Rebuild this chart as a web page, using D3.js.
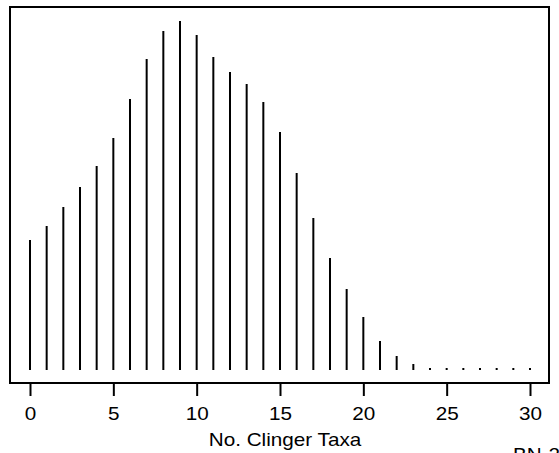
<!DOCTYPE html>
<html>
<head>
<meta charset="utf-8">
<script src="https://cdn.jsdelivr.net/npm/d3@7"></script>
<style>
  html, body { margin: 0; padding: 0; background: #fff; }
  svg { display: block; font-family: "Liberation Sans", Arial, sans-serif; }
</style>
</head>
<body>
<script>
// Data
const taxa = d3.range(0, 31);
const freq = [130, 144, 163, 183, 204, 232, 271, 311, 339, 349, 335, 313, 298, 286, 268, 238, 197, 152, 112, 81, 53, 29, 14, 6, 2, 2, 2, 2, 2, 2, 2];
const tickVals = [0, 5, 10, 15, 20, 25, 30];
const xTitle = "No. Clinger Taxa";
const cornerNote = "BN-2";

const W = 559, H = 453;
const svg = d3.select("body").append("svg").attr("width", W).attr("height", H);

const box = { left: 10, top: 7, right: 549, bottom: 383 };
const x = d3.scaleLinear().domain([0, 30]).range([30, 530]);
const y = d3.scaleLinear().domain([0, 349]).range([370, 21]);

// spikes
svg.append("g").selectAll("line").data(taxa).join("line")
  .attr("x1", d => x(d)).attr("x2", d => x(d))
  .attr("y1", y(0)).attr("y2", (d, i) => y(freq[i]))
  .attr("stroke", "#000").attr("stroke-width", 2);

// box
svg.append("rect")
  .attr("x", box.left).attr("y", box.top)
  .attr("width", box.right - box.left).attr("height", box.bottom - box.top)
  .attr("fill", "none").attr("stroke", "#000").attr("stroke-width", 2);

// axis
const ax = svg.append("g").attr("transform", `translate(0,${box.bottom})`)
  .call(d3.axisBottom(x).tickValues(tickVals).tickSize(13).tickPadding(11).tickFormat(d3.format("d")));
ax.select(".domain").remove();
ax.selectAll(".tick line").attr("stroke", "#000").attr("stroke-width", 2);
ax.selectAll(".tick text")
  .attr("fill", "#000")
  .style("font-size", "18px")
  .style("font-family", '"Liberation Sans", Arial, sans-serif')
  .attr("transform", "scale(1.15,1)");

// title
svg.append("text")
  .attr("transform", "translate(285,446) scale(1.15,1)")
  .attr("text-anchor", "middle")
  .style("font-size", "18px")
  .text(xTitle);

svg.append("text")
  .attr("transform", "translate(513,461) scale(1.15,1)")
  .style("font-size", "18px")
  .text(cornerNote);
</script>
</body>
</html>
